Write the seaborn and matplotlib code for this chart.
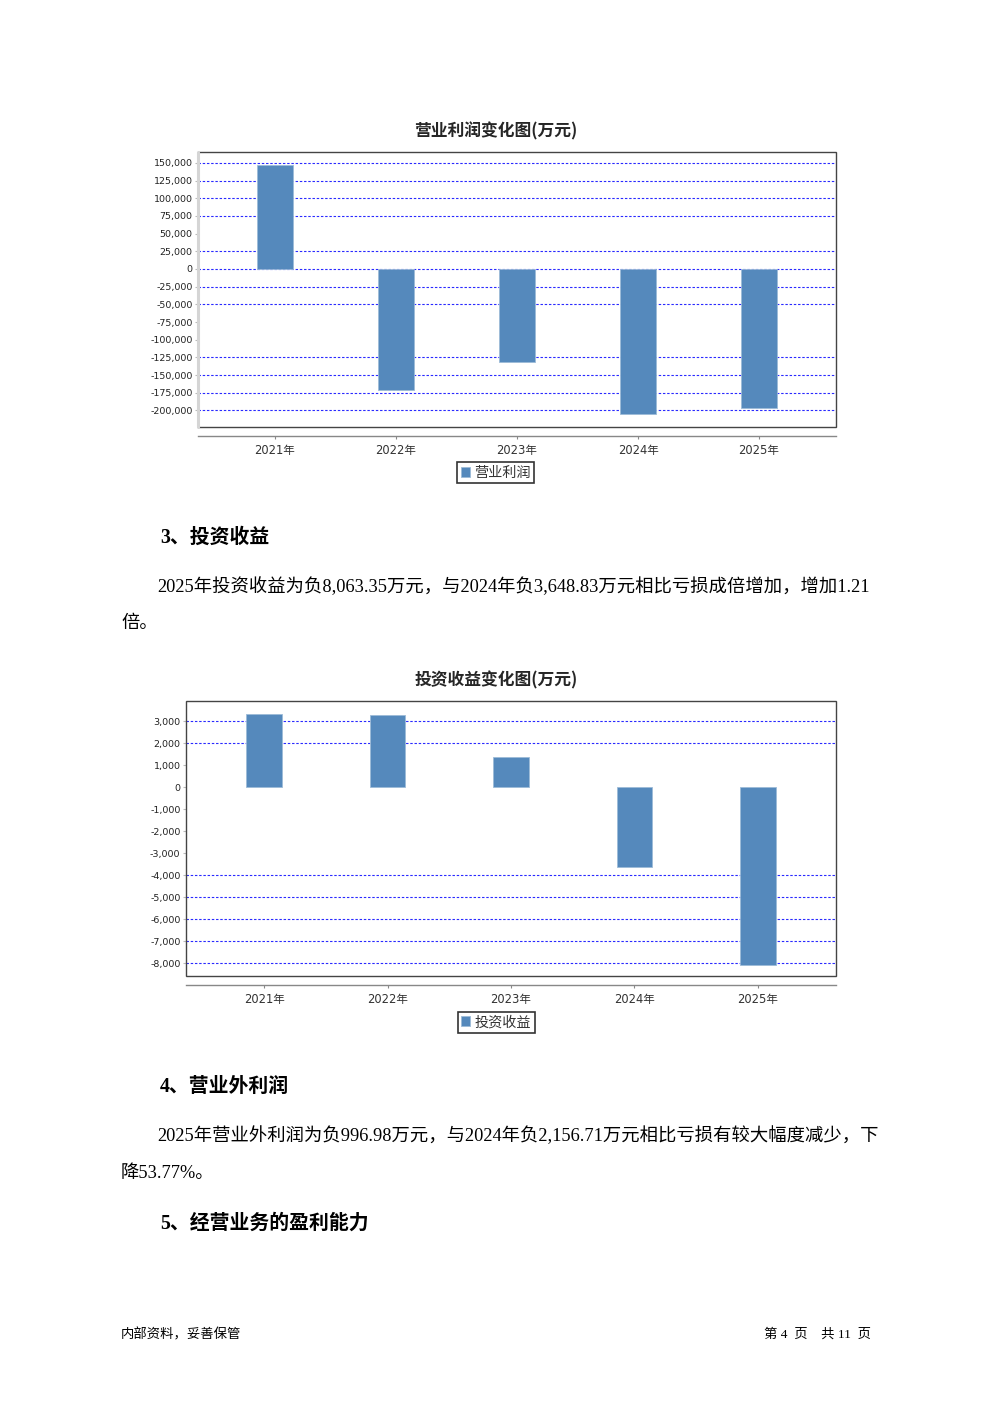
import matplotlib
matplotlib.use('Agg')
import matplotlib.pyplot as plt
import matplotlib.ticker as mticker
from matplotlib.patches import Rectangle
import seaborn as sns

# data
years = ['2021年', '2022年', '2023年', '2024年', '2025年']

op_profit = [147000, -171000, -131000, -205000, -197000]
op_ticks = [150000, 125000, 100000, 75000, 50000, 25000, 0, -25000, -50000,
            -75000, -100000, -125000, -150000, -175000, -200000]
op_grid = [150000, 125000, 100000, 75000, 25000, 0, -25000, -50000,
           -125000, -150000, -175000, -200000]

inv_income = [3320, 3270, 1350, -3648.83, -8063.35]
inv_ticks = [3000, 2000, 1000, 0, -1000, -2000, -3000, -4000, -5000, -6000, -7000, -8000]
inv_grid = [3000, 2000, -4000, -5000, -6000, -7000, -8000]

sns.set_style('white')
plt.rcParams['font.family'] = ['DejaVu Sans', 'Noto Sans CJK SC']

W, H = 992, 1403
BAR = '#5589bc'
GRID = '#2a2aff'
SERIF = ['Liberation Serif', 'Noto Sans CJK SC']

fig = plt.figure(figsize=(W / 100, H / 100), dpi=100)


def px_axes(left, top, right, bottom):
    return fig.add_axes([left / W, 1 - bottom / H, (right - left) / W, (bottom - top) / H])


def draw_chart(ax, values, ticks, grid, ylim, xlim, label, leg_xy, light_left=False):
    sns.barplot(x=years, y=values, color=BAR, saturation=1, width=0.29,
                edgecolor='#9dbbd8', linewidth=0.6, label=label, ax=ax, zorder=3)
    ax.hlines(grid, xlim[0], xlim[1], colors=GRID, linestyles=(0, (2.2, 1.6)),
              linewidth=0.8, zorder=1)
    ax.set_xlim(*xlim)
    ax.set_ylim(*ylim)
    ax.set_yticks(ticks)
    ax.yaxis.set_major_formatter(mticker.FuncFormatter(lambda v, p: f'{int(v):,}'))
    ax.tick_params(axis='y', labelsize=6.8, length=2.5, color='#bbbbbb', pad=1.5,
                   labelcolor='#222222', left=True)
    ax.tick_params(axis='x', labelsize=8.3, length=2.5, color='#888888', pad=3,
                   labelcolor='#333333', bottom=True)
    ax.set_xlabel('')
    ax.set_ylabel('')
    for s in ['top', 'right', 'left']:
        ax.spines[s].set_visible(False)
    ax.spines['bottom'].set_position(('outward', 6.5))
    ax.spines['bottom'].set_color('#888888')
    ax.spines['bottom'].set_linewidth(1.0)
    ax.add_patch(Rectangle((0, 0), 1, 1, transform=ax.transAxes, fill=False,
                           edgecolor='#444444', linewidth=1.0, zorder=5, clip_on=False))
    if light_left:
        ax.plot([0, 0], [0, 1], transform=ax.transAxes, color='#d5d5d5',
                linewidth=2.2, zorder=6, clip_on=False)
    leg = ax.legend(loc='center', bbox_to_anchor=leg_xy, frameon=True, fancybox=False,
                    edgecolor='black', handlelength=0.65, handleheight=0.65,
                    handletextpad=0.3, borderpad=0.25, borderaxespad=0,
                    prop={'family': ['Noto Sans CJK SC'], 'size': 10.2})
    leg.get_frame().set_linewidth(1.2)
    for t in leg.get_texts():
        t.set_color('#333333')


# chart 1
ax1 = px_axes(198, 152, 836, 427)
draw_chart(ax1, op_profit, op_ticks, op_grid, (-223500, 165500), (-0.636, 4.636),
           '营业利润', (0.467, -0.167), light_left=True)
fig.text(0.5, 1 - 131 / H, '营业利润变化图(万元)', ha='center', va='center',
         fontsize=12.1, fontweight='bold', family=['Noto Sans CJK SC'])

# chart 2
ax2 = px_axes(186, 701, 836, 976)
draw_chart(ax2, inv_income, inv_ticks, inv_grid, (-8577, 3909), (-0.632, 4.632),
           '投资收益', (0.477, -0.168))
fig.text(0.5, 1 - 680 / H, '投资收益变化图(万元)', ha='center', va='center',
         fontsize=12.1, fontweight='bold', family=['Noto Sans CJK SC'])


def page_text(x, y, s, size, bold=False):
    fig.text(x / W, 1 - (y + 1.5) / H, s, ha='left', va='center', fontsize=size,
             fontweight='bold' if bold else 'normal', family=SERIF, color='black')


page_text(160, 536, '3、投资收益', 14.3, bold=True)
page_text(157, 585, '2025年投资收益为负8,063.35万元，与2024年负3,648.83万元相比亏损成倍增加，增加1.21', 13.2)
page_text(121, 622, '倍。', 13.2)

page_text(160, 1085, '4、营业外利润', 14.3, bold=True)
page_text(157, 1134, '2025年营业外利润为负996.98万元，与2024年负2,156.71万元相比亏损有较大幅度减少，下', 13.2)
page_text(121, 1172, '降53.77%。', 13.2)

page_text(160, 1222, '5、经营业务的盈利能力', 14.3, bold=True)

page_text(121, 1333, '内部资料，妥善保管', 9.6)
fig.text(871 / W, 1 - 1334 / H, '第 4  页    共 11  页', ha='right', va='center',
         fontsize=9.6, family=SERIF, color='black')

fig.savefig('out.png', dpi=100, facecolor='white')
